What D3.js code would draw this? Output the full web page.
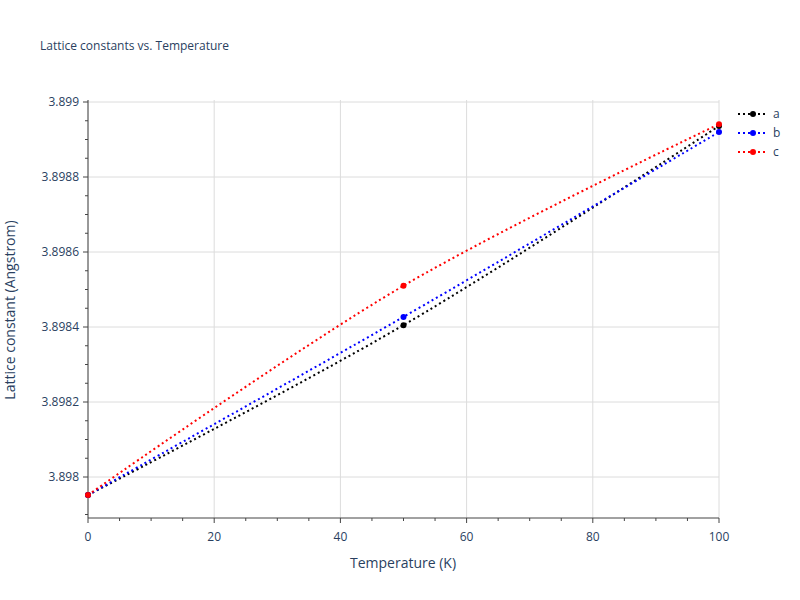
<!DOCTYPE html>
<html><head><meta charset="utf-8">
<script src="https://cdn.jsdelivr.net/npm/d3@7"></script>
<style>body{margin:0;background:#fff}text{font-family:"Open Sans",Arial,sans-serif}</style>
</head><body>
<svg id="c" width="800" height="600"></svg>
<script>
const temps=[0,50,100];
const seriesNames=["a","b","c"];
const seriesColors=["#000000","#0000ff","#ff0000"];
const aVals=[3.897952,3.898405,3.898936];
const bVals=[3.897952,3.898427,3.898920];
const cVals=[3.897952,3.898510,3.898941];
const xTicks=[0,20,40,60,80,100];
const yTicks=[3.898,3.8982,3.8984,3.8986,3.8988,3.899];
const yTickLabels=["3.898","3.8982","3.8984","3.8986","3.8988","3.899"];
const all=[aVals,bVals,cVals];
const svg=d3.select("#c");
const L=88,R=719,T=100,B=518;
const x=d3.scaleLinear().domain([0,100]).range([L,R]);
const y=d3.scaleLinear().domain([3.898,3.8988]).range([477,177]);
const g=svg.append("g");
// grid
yTicks.forEach(v=>g.append("line").attr("x1",L).attr("x2",R).attr("y1",y(v)).attr("y2",y(v)).attr("stroke","#dcdcdc"));
xTicks.forEach(v=>g.append("line").attr("y1",T).attr("y2",B).attr("x1",x(v)).attr("x2",x(v)).attr("stroke","#dcdcdc"));
// axis lines
g.append("line").attr("x1",L).attr("x2",L).attr("y1",T).attr("y2",B).attr("stroke","#444");
g.append("line").attr("x1",L).attr("x2",R).attr("y1",B).attr("y2",B).attr("stroke","#444");
// minor ticks
d3.range(0,101,5).forEach(v=>g.append("line").attr("x1",x(v)).attr("x2",x(v)).attr("y1",B).attr("y2",B+(v%20==0?5:3)).attr("stroke","#444"));
d3.range(0,23).map(i=>3.89790+i*0.00005).filter(v=>y(v)<=B&&y(v)>=T-1).forEach(v=>{
 const major=yTicks.some(t=>Math.abs(t-v)<1e-9);
 g.append("line").attr("x1",L-(major?5:3)).attr("x2",L).attr("y1",y(v)).attr("y2",y(v)).attr("stroke","#444");});
xTicks.forEach(v=>g.append("text").attr("x",x(v)).attr("y",541).attr("text-anchor","middle").attr("font-size",12).attr("fill","#2a3f5f").text(v));
yTicks.forEach((v,i)=>g.append("text").attr("x",L-6-3).attr("y",y(v)+4).attr("text-anchor","end").attr("font-size",12).attr("fill","#2a3f5f").text(yTickLabels[i]));
svg.append("text").attr("x",403).attr("y",568).attr("text-anchor","middle").attr("font-size",14).attr("fill","#2a3f5f").text("Temperature (K)");
svg.append("text").attr("transform","translate(15,310) rotate(-90)").attr("text-anchor","middle").attr("font-size",14).attr("fill","#2a3f5f").text("Lattice constant (Angstrom)");
svg.append("text").attr("x",40).attr("y",50).attr("font-size",12).attr("fill","#2a3f5f").text("Lattice constants vs. Temperature");
const line=d3.line().x((d,i)=>x(temps[i])).y(d=>y(d)).curve(d3.curveCatmullRom);
const clip=svg.append("clipPath").attr("id","cp").append("rect").attr("x",L-6).attr("y",T-6).attr("width",R-L+12).attr("height",B-T+12);
all.forEach((s,k)=>{
 const gg=svg.append("g").attr("clip-path","url(#cp)");
 gg.append("path").attr("d",line(s)).attr("fill","none").attr("stroke",seriesColors[k]).attr("stroke-width",2).attr("stroke-dasharray","2,3");
 s.forEach((v,i)=>gg.append("circle").attr("cx",x(temps[i])).attr("cy",y(v)).attr("r",3).attr("fill",seriesColors[k]));
 const ly=114+k*19;
 svg.append("line").attr("x1",738).attr("x2",768).attr("y1",ly).attr("y2",ly).attr("stroke",seriesColors[k]).attr("stroke-width",2).attr("stroke-dasharray","2,3");
 svg.append("circle").attr("cx",753).attr("cy",ly).attr("r",3).attr("fill",seriesColors[k]);
 svg.append("text").attr("x",773).attr("y",ly+4).attr("font-size",12).attr("fill","#2a3f5f").text(seriesNames[k]);
});
</script></body></html>
